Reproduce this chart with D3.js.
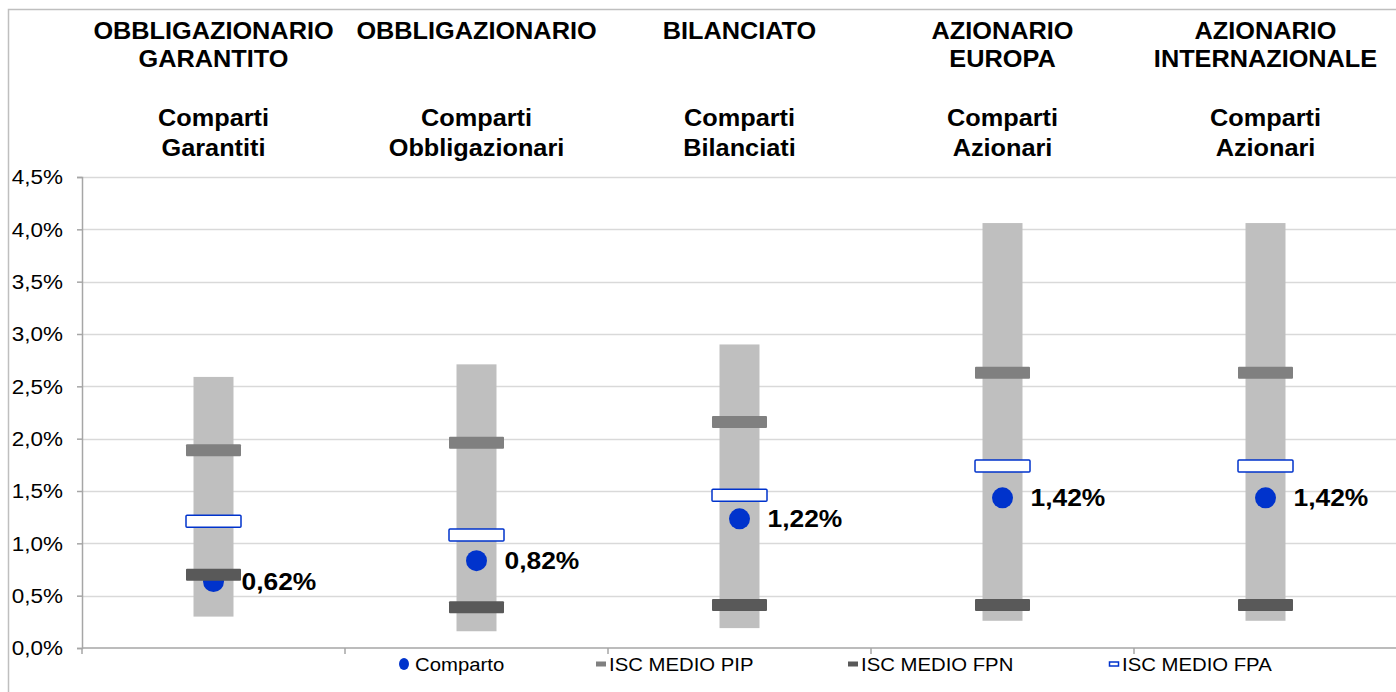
<!DOCTYPE html>
<html>
<head>
<meta charset="utf-8">
<script src="https://cdn.jsdelivr.net/npm/d3@7"></script>
<style>
  body { margin: 0; background: #fff; }
  svg { display: block; font-family: "Liberation Sans", Arial, sans-serif; }
</style>
</head>
<body>
<div class="container"></div>
<script>
// data (percent values)
const categories = ["OBBLIGAZIONARIO GARANTITO", "OBBLIGAZIONARIO", "BILANCIATO", "AZIONARIO EUROPA", "AZIONARIO INTERNAZIONALE"];
const headerLines = [
  ["OBBLIGAZIONARIO", "GARANTITO"],
  ["OBBLIGAZIONARIO"],
  ["BILANCIATO"],
  ["AZIONARIO", "EUROPA"],
  ["AZIONARIO", "INTERNAZIONALE"]
];
const subLines = [
  ["Comparti", "Garantiti"],
  ["Comparti", "Obbligazionari"],
  ["Comparti", "Bilanciati"],
  ["Comparti", "Azionari"],
  ["Comparti", "Azionari"]
];
const rangeMin = [0.30, 0.16, 0.19, 0.26, 0.26];
const rangeMax = [2.59, 2.71, 2.90, 4.06, 4.06];
const iscPIP = [1.89, 1.96, 2.16, 2.63, 2.63];
const iscFPN = [0.70, 0.39, 0.41, 0.41, 0.41];
const iscFPA = [1.21, 1.08, 1.46, 1.74, 1.74];
const comparto = [0.62, 0.82, 1.22, 1.42, 1.42];
const yTicks = [0, 0.5, 1, 1.5, 2, 2.5, 3, 3.5, 4, 4.5];
const legendItems = ["Comparto", "ISC MEDIO PIP", "ISC MEDIO FPN", "ISC MEDIO FPA"];

const w = 1396, h = 692;
const sx = 1.1; // source picture is stretched a bit horizontally
const padL = 82, padR = 1397, plotTop = 177, plotBottom = 648;
const blue = "#0033cc";

const svg = d3.select(".container").append("svg")
  .attr("width", w).attr("height", h);

// outer chart border
svg.append("path")
  .attr("d", `M8.5,${h} V9.5 H${w}`)
  .attr("fill", "none").attr("stroke", "#bfbfbf").attr("stroke-width", 1.5);

const x = d3.scaleBand().domain(categories).range([padL, padR]);
const y = d3.scaleLinear().domain([0, 4.5]).range([plotBottom, plotTop]);
const fmt = (d) => d.toFixed(1).replace(".", ",") + "%";
const fmt2 = (d) => d.toFixed(2).replace(".", ",") + "%";
const cx = (i) => x(categories[i]) + x.bandwidth() / 2;

// grid
svg.append("g").selectAll("line")
  .data(yTicks.filter(d => d > 0)).enter()
  .append("line")
  .attr("x1", padL).attr("x2", w)
  .attr("y1", d => Math.round(y(d)) + 0.5).attr("y2", d => Math.round(y(d)) + 0.5)
  .attr("stroke", "#d9d9d9").attr("stroke-width", 1.5);

// y axis
const yAxis = d3.axisLeft(y).tickValues(yTicks).tickSize(5).tickPadding(14).tickFormat(fmt);
const gy = svg.append("g").attr("transform", `translate(${padL},0)`).call(yAxis);
gy.select(".domain").attr("stroke", "#a6a6a6").attr("stroke-width", 1.5);
gy.selectAll(".tick line").attr("stroke", "#a6a6a6").attr("stroke-width", 1.5);
gy.selectAll(".tick text")
  .attr("x", null)
  .attr("transform", `translate(-19,0) scale(1.07,1)`)
  .attr("font-size", 21).attr("fill", "#000")
  .attr("font-family", "Liberation Sans, Arial, sans-serif");

// x axis (category separators)
const gx = svg.append("g").attr("transform", `translate(0,${plotBottom})`);
gx.append("line").attr("x1", padL).attr("x2", w).attr("y1", 0).attr("y2", 0)
  .attr("stroke", "#a6a6a6").attr("stroke-width", 1.5);
gx.selectAll("line.sep")
  .data(categories).enter()
  .append("line").attr("class", "sep")
  .attr("x1", d => x(d)).attr("x2", d => x(d))
  .attr("y1", 0).attr("y2", 6)
  .attr("stroke", "#a6a6a6").attr("stroke-width", 1.5);

// headers
const head = svg.append("g");
categories.forEach((c, i) => {
  headerLines[i].forEach((t, j) => {
    head.append("text")
      .attr("transform", `translate(${cx(i)},${39 + j * 28}) scale(${sx},1)`)
      .attr("text-anchor", "middle").attr("font-weight", "bold").attr("font-size", 23)
      .text(t);
  });
  subLines[i].forEach((t, j) => {
    head.append("text")
      .attr("transform", `translate(${cx(i)},${126 + j * 30}) scale(${sx},1)`)
      .attr("text-anchor", "middle").attr("font-weight", "bold").attr("font-size", 23)
      .text(t);
  });
});

// range bars
const barW = 40, tickW = 55, tickH = 12;
svg.append("g").selectAll("rect")
  .data(categories).enter()
  .append("rect")
  .attr("x", (d, i) => cx(i) - barW / 2)
  .attr("y", (d, i) => y(rangeMax[i]))
  .attr("width", barW)
  .attr("height", (d, i) => y(rangeMin[i]) - y(rangeMax[i]))
  .attr("fill", "#bfbfbf");

// comparto dots (drawn under the ISC markers)
svg.append("g").selectAll("circle")
  .data(comparto).enter()
  .append("circle")
  .attr("cx", (d, i) => cx(i))
  .attr("cy", d => y(d) - 1.5)
  .attr("r", 10.5)
  .attr("fill", blue);

function markers(values, fill, stroke) {
  svg.append("g").selectAll("rect")
    .data(values).enter()
    .append("rect")
    .attr("x", (d, i) => cx(i) - tickW / 2)
    .attr("y", d => y(d) - tickH / 2)
    .attr("width", tickW).attr("height", tickH)
    .attr("rx", 1)
    .attr("fill", fill)
    .attr("stroke", stroke || "none")
    .attr("stroke-width", stroke ? 1.5 : 0);
}
markers(iscPIP, "#808080");
markers(iscFPN, "#595959");
markers(iscFPA, "#ffffff", blue);

// value labels
svg.append("g").selectAll("text")
  .data(comparto).enter()
  .append("text")
  .attr("transform", (d, i) => `translate(${cx(i) + 28},${y(d) + 7}) scale(${sx},1)`)
  .attr("font-weight", "bold").attr("font-size", 24)
  .text(fmt2);

// legend
const legY = 664;
const legX = [404, 601, 853, 1114];
const leg = svg.append("g");
leg.append("ellipse").attr("cx", legX[0]).attr("cy", legY).attr("rx", 5).attr("ry", 6).attr("fill", blue);
leg.append("rect").attr("x", legX[1] - 5).attr("y", legY - 2.5).attr("width", 10).attr("height", 5).attr("fill", "#808080");
leg.append("rect").attr("x", legX[2] - 5).attr("y", legY - 2.5).attr("width", 10).attr("height", 5).attr("fill", "#595959");
leg.append("rect").attr("x", legX[3] - 4.5).attr("y", legY - 2).attr("width", 9).attr("height", 4)
  .attr("fill", "#fff").attr("stroke", blue).attr("stroke-width", 1.5);
legendItems.forEach((t, i) => {
  leg.append("text")
    .attr("transform", `translate(${legX[i] + (i === 0 ? 11 : 8)},${legY + 7}) scale(1.07,1)`)
    .attr("font-size", 19)
    .text(t);
});
</script>
</body>
</html>
